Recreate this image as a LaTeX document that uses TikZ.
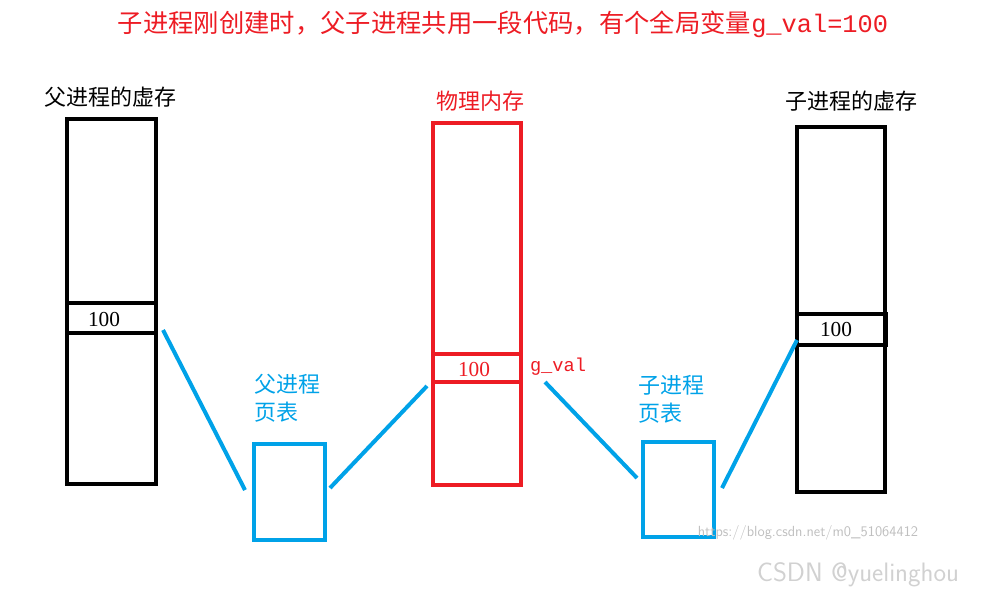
\documentclass[tikz,border=0pt]{standalone}
\usepackage{fontspec}
\setmainfont{Liberation Serif}
\newfontfamily\cjk{Noto Sans CJK SC}
\newfontfamily\mono{Liberation Mono}
\definecolor{myred}{RGB}{237,28,36}
\definecolor{myblue}{RGB}{0,162,232}
\begin{document}
\begin{tikzpicture}[x=0.75pt,y=-0.75pt,
  blk/.style={draw=black,line width=3pt},
  rbx/.style={draw=myred,line width=3pt},
  bbx/.style={draw=myblue,line width=3pt},
  bln/.style={myblue,line width=3pt},
  lbl/.style={font=\cjk\fontsize{16.5}{20}\selectfont,inner sep=0pt},
  num/.style={font=\fontsize{16}{18}\selectfont,inner sep=0pt}]
\useasboundingbox (0,0) rectangle (1005,601);
\node[lbl,text=myred,font=\cjk\fontsize{19}{22}\selectfont] (title) at (503,24) {子进程刚创建时，父子进程共用一段代码，有个全局变量{\mono g\_val=100}};
% left
\draw[blk] (67,119) rectangle (156,484);
\draw[blk] (67,303) -- (156,303) (67,333) -- (156,333);
\node[num] (n1) at (104,319) {100};
\node[lbl] (l1) at (110,97) {父进程的虚存};
% middle
\draw[rbx] (433,123) rectangle (521,485);
\draw[rbx] (433,354) -- (521,354) (433,382) -- (521,382);
\node[num,text=myred] (n2) at (474,369) {100};
\node[inner sep=0pt,text=myred,font=\mono\fontsize{14}{16}\selectfont] (gv) at (558,367) {g\_val};
\node[lbl,text=myred] (l2) at (480,101) {物理内存};
% right
\draw[blk] (797,127) rectangle (885,492);
\draw[blk] (797,314) rectangle (886,345);
\node[num] (n3) at (836,329) {100};
\node[lbl] (l3) at (851,101) {子进程的虚存};
% page tables
\node[bbx,minimum width=53pt,minimum height=72pt,inner sep=0pt] (pt1) at (289.5,492) {};
\node[bbx,minimum width=53pt,minimum height=71pt,inner sep=0pt] (pt2) at (678.5,489.5) {};
\node[lbl,text=myblue,align=left,anchor=north west,font=\cjk\fontsize{16.5}{21}\selectfont] (t1) at (254,374) {父进程\\页表};
\node[lbl,text=myblue,align=left,anchor=north west,font=\cjk\fontsize{16.5}{21}\selectfont] (t2) at (638,375) {子进程\\页表};
\coordinate (a1) at (163,330); \coordinate (a2) at (245,490);
\coordinate (b1) at (330,488); \coordinate (b2) at (427,386);
\coordinate (c1) at (545,382); \coordinate (c2) at (637,478);
\coordinate (d1) at (722,488); \coordinate (d2) at (797,340);
\draw[bln] (a1) -- (a2);
\draw[bln] (b1) -- (b2);
\draw[bln] (c1) -- (c2);
\draw[bln] (d1) -- (d2);
% watermark
\node[inner sep=0pt,text=black!25,font=\sffamily\fontsize{11}{13}\selectfont] (w1) at (808,533) {https://blog.csdn.net/m0\_51064412};
\node[inner sep=0pt,text=black!18,font=\sffamily\fontsize{20}{24}\selectfont] (w2) at (858,575) {CSDN @yuelinghou};
\end{tikzpicture}
\end{document}
